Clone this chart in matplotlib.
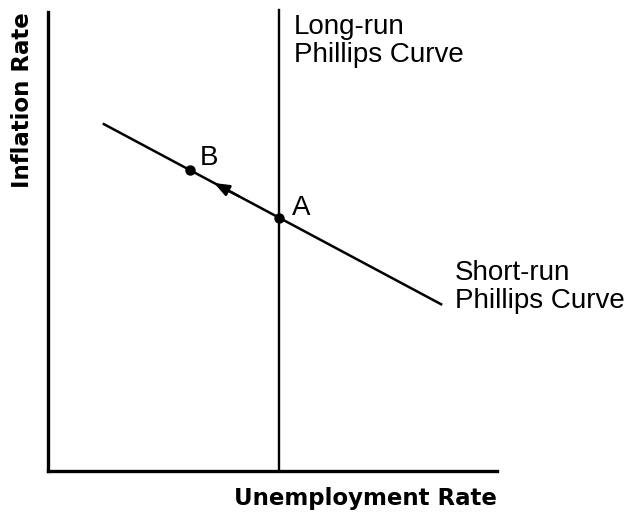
import numpy as np
import matplotlib
matplotlib.use("Agg")
import matplotlib.pyplot as plt

# curve data (economic space, 0-10 on both axes)
lrpc_x = [5.14, 5.14]
lrpc_y = [0.0, 10.05]
srpc_x = [1.22, 8.78]
srpc_y = [7.57, 3.62]
point_names = ["A", "B"]
point_x = [5.14, 3.16]
arrow_from_x = 4.25
arrow_to_x = 3.70

W, H = 628, 514
fig = plt.figure(figsize=(W / 100, H / 100), dpi=100)
ax = fig.add_axes([48 / W, (H - 471) / H, 449 / W, 459 / H])
ax.set_xlim(0, 10)
ax.set_ylim(0, 10)

for s in ["top", "right"]:
    ax.spines[s].set_visible(False)
for s in ["left", "bottom"]:
    ax.spines[s].set_linewidth(2.4)
ax.set_xticks([])
ax.set_yticks([])

# short-run curve is a straight line through its two end points
def srpc(x):
    x = np.asarray(x, dtype=float)
    return srpc_y[0] + (srpc_y[1] - srpc_y[0]) * (x - srpc_x[0]) / (srpc_x[1] - srpc_x[0])

ax.plot(lrpc_x, lrpc_y, color="black", lw=1.7, clip_on=False)
ax.plot(srpc_x, srpc_y, color="black", lw=1.8, solid_capstyle="butt")

py = srpc(point_x)
ax.plot(point_x, py, "o", color="black", ms=6.5, zorder=5)

ax.annotate("", xy=(arrow_to_x, srpc(arrow_to_x)), xytext=(arrow_from_x, srpc(arrow_from_x)),
            arrowprops=dict(arrowstyle="-|>,head_length=0.9,head_width=0.35", color="black",
                            lw=1.8, shrinkA=0, shrinkB=0))

txt = dict(family="Liberation Sans", fontsize=20, color="black")
ax.text(point_x[0] + 0.3, py[0] + 0.05, point_names[0], ha="left", va="baseline", **txt)
ax.text(point_x[1] + 0.22, py[1] + 0.1, point_names[1], ha="left", va="baseline", **txt)

ax.text(5.48, 9.95, "Long-run\nPhillips Curve", ha="left", va="top", linespacing=1.1,
        clip_on=False, **txt)
ax.text(9.06, 4.6, "Short-run\nPhillips Curve", ha="left", va="top", linespacing=1.1,
        clip_on=False, **txt)

lab = dict(family="DejaVu Sans", fontweight="bold", fontsize=16.5, color="black")
fig.text(497 / W, (H - 499) / H, "Unemployment Rate", ha="right", va="center", **lab)
fig.text(23 / W, 1 - 12 / H, "Inflation Rate", ha="center", va="top", rotation=90, **lab)

fig.savefig("out.png", dpi=100, facecolor="white")
